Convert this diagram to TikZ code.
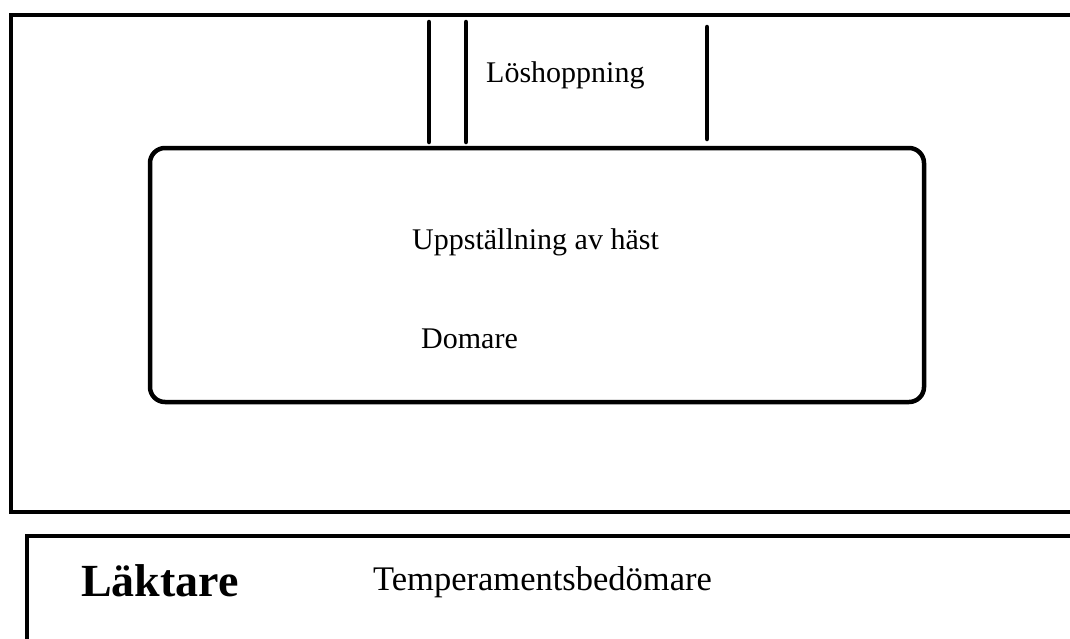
\documentclass[tikz,border=0pt]{standalone}
\usepackage{fontspec}
\setmainfont{Liberation Serif}
\tikzstyle{wall} = [line width=4.5pt, draw=black]
\tikzstyle{gate} = [line width=4.5pt, draw=black, line cap=round]
\tikzstyle{ring} = [line width=4.5pt, draw=black, rounded corners=15pt]
\tikzstyle{areatext} = [anchor=base west, inner sep=0pt, font=\fontsize{30}{36}\selectfont]
\tikzstyle{bigtext} = [anchor=base west, inner sep=0pt, font=\fontsize{46}{54}\selectfont\bfseries]

\begin{document}
\begin{tikzpicture}[x=1pt, y=-1pt]
\useasboundingbox (0,0) rectangle (1070,638);

% arena, open to the right
\draw [wall] (1080,15) -- (11,15) -- (11,512) -- (1080,512);

% entrance for the free jumping
\draw [gate] (429,22) -- (429,142);
\draw [gate] (466,22) -- (466,142);
\draw [gate] (707,27) -- (707,139);
\node (jump) [areatext] at (486,82) {Löshoppning};

% inner ring
\draw [ring] (150,148) rectangle (924,402);
\node (horse) [areatext] at (412,249) {Uppställning av häst};
\node (judge) [areatext] at (421,348) {Domare};

% stand
\draw [wall] (1080,536) -- (27,536) -- (27,650);
\node (stand) [bigtext] at (81,596) {Läktare};
\node (temper) [areatext, font=\fontsize{34.5}{40}\selectfont] at (373,590) {Temperamentsbedömare};

\end{tikzpicture}
\end{document}
